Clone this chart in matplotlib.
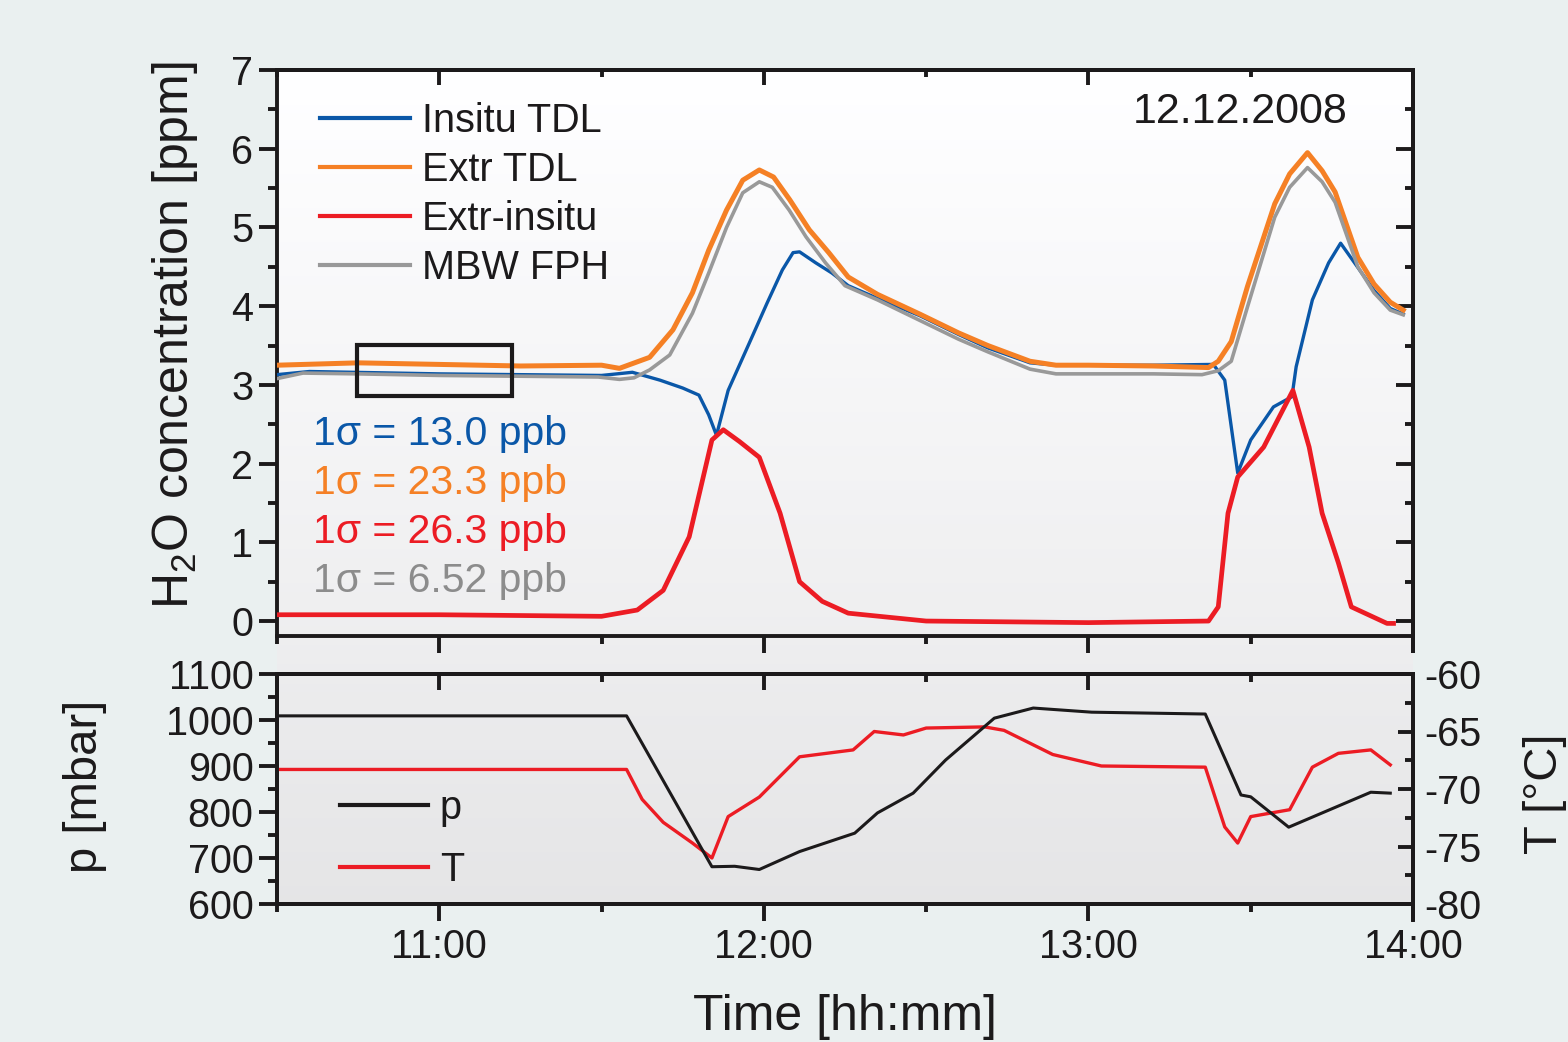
import numpy as np
import matplotlib
matplotlib.use('Agg')
import matplotlib.pyplot as plt
from matplotlib.lines import Line2D
from matplotlib.patches import Rectangle
from matplotlib.ticker import MultipleLocator, FixedLocator

plt.rcParams['font.family'] = ['Liberation Sans', 'DejaVu Sans']
plt.rcParams['mathtext.fontset'] = 'custom'
plt.rcParams['mathtext.rm'] = 'Liberation Sans'
plt.rcParams['axes.unicode_minus'] = False

# --- data (time in decimal hours) ---
t_fph = [10.50, 10.58, 10.75, 11.00, 11.25, 11.49, 11.555, 11.60, 11.648, 11.71,
         11.78, 11.83, 11.885, 11.935, 11.986, 12.026, 12.078, 12.13, 12.19, 12.25,
         12.35, 12.48, 12.60, 12.69, 12.82, 12.90, 13.00, 13.20, 13.35, 13.40,
         13.44, 13.49, 13.574, 13.62, 13.675, 13.72, 13.76, 13.83, 13.88, 13.93, 13.97]
h2o_fph = [3.08, 3.15, 3.14, 3.12, 3.11, 3.10, 3.07, 3.09, 3.19, 3.38,
           3.91, 4.42, 5.00, 5.44, 5.58, 5.51, 5.22, 4.88, 4.55, 4.26,
           4.08, 3.82, 3.58, 3.42, 3.20, 3.14, 3.14, 3.14, 3.13, 3.18,
           3.30, 3.99, 5.13, 5.51, 5.76, 5.58, 5.32, 4.50, 4.17, 3.95, 3.89]

t_extr = [10.50, 10.75, 11.00, 11.25, 11.50, 11.555, 11.648, 11.72, 11.78, 11.83,
          11.885, 11.935, 11.986, 12.03, 12.08, 12.14, 12.20, 12.26, 12.35, 12.48,
          12.60, 12.69, 12.82, 12.90, 13.00, 13.20, 13.37, 13.40, 13.44, 13.49,
          13.574, 13.62, 13.675, 13.72, 13.76, 13.83, 13.88, 13.93, 13.97]
h2o_extr = [3.25, 3.28, 3.26, 3.24, 3.25, 3.21, 3.35, 3.70, 4.17, 4.71,
            5.22, 5.60, 5.73, 5.64, 5.35, 4.97, 4.68, 4.37, 4.15, 3.90,
            3.66, 3.50, 3.30, 3.25, 3.25, 3.24, 3.22, 3.30, 3.55, 4.25,
            5.30, 5.68, 5.95, 5.72, 5.45, 4.62, 4.28, 4.05, 3.95]

t_insitu = [10.50, 10.60, 11.00, 11.25, 11.50, 11.595, 11.68, 11.75, 11.80, 11.83,
            11.854, 11.89, 11.955, 12.01, 12.057, 12.09, 12.11, 12.16, 12.21, 12.26,
            12.35, 12.48, 12.60, 12.69, 12.82, 12.90, 13.00, 13.20, 13.385, 13.42,
            13.46, 13.50, 13.57, 13.627, 13.64, 13.69, 13.74, 13.777, 13.82, 13.88,
            13.93, 13.97]
h2o_insitu = [3.13, 3.17, 3.14, 3.13, 3.12, 3.16, 3.06, 2.96, 2.87, 2.62,
              2.36, 2.93, 3.53, 4.04, 4.46, 4.68, 4.69, 4.55, 4.42, 4.26,
              4.10, 3.88, 3.64, 3.47, 3.28, 3.25, 3.25, 3.25, 3.26, 3.06,
              1.88, 2.30, 2.72, 2.85, 3.23, 4.08, 4.55, 4.80, 4.55, 4.20,
              3.97, 3.90]

t_diff = [10.50, 11.00, 11.50, 11.61, 11.69, 11.77, 11.84, 11.875, 11.925, 11.986,
          12.05, 12.11, 12.18, 12.26, 12.50, 13.00, 13.37, 13.40, 13.43, 13.46,
          13.54, 13.63, 13.68, 13.72, 13.77, 13.81, 13.92, 13.94]
h2o_diff = [0.08, 0.08, 0.06, 0.14, 0.39, 1.07, 2.30, 2.43, 2.28, 2.08,
            1.37, 0.50, 0.25, 0.10, 0.00, -0.02, 0.00, 0.18, 1.37, 1.83,
            2.21, 2.93, 2.21, 1.37, 0.74, 0.18, -0.03, -0.03]

t_p = [10.50, 11.577, 11.84, 11.91, 11.986, 12.11, 12.28, 12.35, 12.46, 12.56,
       12.71, 12.83, 13.01, 13.36, 13.47, 13.50, 13.617, 13.87, 13.93]
pressure = [1009, 1009, 681, 682, 675, 714, 754, 798, 841, 913,
            1004, 1026, 1017, 1013, 837, 833, 767, 843, 841]

t_T = [10.50, 11.577, 11.625, 11.69, 11.78, 11.84, 11.89, 11.986, 12.11, 12.275,
       12.34, 12.43, 12.50, 12.68, 12.74, 12.89, 13.04, 13.36, 13.42, 13.46,
       13.50, 13.62, 13.69, 13.77, 13.87, 13.93]
temperature = [-68.3, -68.3, -70.9, -72.9, -74.7, -76.0, -72.4, -70.7, -67.2, -66.6,
               -65.0, -65.3, -64.7, -64.6, -64.9, -67.0, -68.0, -68.1, -73.3, -74.7,
               -72.4, -71.8, -68.1, -66.9, -66.6, -67.9]

series_names = ['Insitu TDL', 'Extr TDL', 'Extr-insitu', 'MBW FPH']
sigma_labels = ['1σ = 13.0 ppb', '1σ = 23.3 ppb', '1σ = 26.3 ppb', '1σ = 6.52 ppb']
hour_ticks = [11, 12, 13, 14]
hour_labels = ['11:00', '12:00', '13:00', '14:00']
box = [10.746, 2.86, 0.477, 0.65]   # x, y, width, height of the marked window
date_text = '12.12.2008'

c_blue = '#0a57a8'
c_orange = '#f58025'
c_red = '#ec1c24'
c_gray = '#999999'
c_gray_txt = '#8c8c8c'
ink = '#1c1a1b'

W, H = 1568, 1042
fig = plt.figure(figsize=(W / 100, H / 100), dpi=100, facecolor='#eaf0f0')

L = 277 / W
R = 1413 / W
top1, bot1 = 1 - 70 / H, 1 - 636 / H
top2, bot2 = 1 - 674 / H, 1 - 904 / H

# background gradient behind both panels
bg = fig.add_axes([L, bot2, R - L, top1 - bot2])
bg.set_axis_off()
rows = np.linspace(0, 1, 300)
stops_y = [0.0, 0.68, 0.74, 1.0]
stops_v = [1.0, 0.935, 0.925, 0.900]
grey = np.interp(rows, stops_y, stops_v)
img = np.stack([grey, grey, grey + 0.005], axis=-1).clip(0, 1)[:, None, :]
bg.imshow(img, aspect='auto', extent=[0, 1, 0, 1], interpolation='bilinear')

lw_sp = 2.8
ax1 = fig.add_axes([L, bot1, R - L, top1 - bot1])
ax2 = fig.add_axes([L, bot2, R - L, top2 - bot2])
for ax in (ax1, ax2):
    ax.set_facecolor('none')
    for s in ax.spines.values():
        s.set_linewidth(lw_sp)
        s.set_color(ink)
    ax.set_xlim(10.5, 14.0)
    ax.xaxis.set_major_locator(FixedLocator(hour_ticks))
    ax.xaxis.set_minor_locator(MultipleLocator(0.5))

# --- top panel ---
ax1.plot(t_insitu, h2o_insitu, color=c_blue, lw=2.4, zorder=3)
ax1.plot(t_extr, h2o_extr, color=c_orange, lw=3.6, zorder=4)
ax1.plot(t_diff, h2o_diff, color=c_red, lw=3.4, zorder=5)
ax1.plot(t_fph, h2o_fph, color=c_gray, lw=2.6, zorder=6)
ax1.add_patch(Rectangle((box[0], box[1]), box[2], box[3], fill=False,
                        edgecolor=ink, lw=3.0, zorder=7))
ax1.set_ylim(-0.19, 7)
ax1.yaxis.set_major_locator(MultipleLocator(1))
ax1.yaxis.set_minor_locator(MultipleLocator(0.5))
ax1.tick_params(axis='y', which='both', direction='out', width=lw_sp,
                labelsize=28.5, pad=4, colors=ink)
ax1.tick_params(axis='y', which='major', length=13)
ax1.tick_params(axis='y', which='minor', length=6.5)
ax1.tick_params(axis='x', which='both', direction='out', width=lw_sp,
                labelbottom=False, colors=ink)
ax1.tick_params(axis='x', which='major', length=12)
ax1.tick_params(axis='x', which='minor', length=6)

sx1 = ax1.secondary_xaxis('top')
sx1.set_xticks(hour_ticks)
sx1.xaxis.set_minor_locator(MultipleLocator(0.5))
sx1.tick_params(which='both', direction='in', width=lw_sp, labeltop=False, colors=ink)
sx1.tick_params(which='major', length=11)
sx1.tick_params(which='minor', length=5)
sx1.spines['top'].set_linewidth(lw_sp)

sy1 = ax1.secondary_yaxis('right')
sy1.yaxis.set_major_locator(MultipleLocator(1))
sy1.yaxis.set_minor_locator(MultipleLocator(0.5))
sy1.tick_params(which='both', direction='in', width=lw_sp, labelright=False, colors=ink)
sy1.tick_params(which='major', length=12)
sy1.tick_params(which='minor', length=5.5)
sy1.spines['right'].set_linewidth(lw_sp)
ax1.plot([1, 1], [-0.03, 0], transform=ax1.transAxes, color=ink, lw=lw_sp,
         clip_on=False, solid_capstyle='butt')

handles = [Line2D([], [], color=c, lw=3.0) for c in (c_blue, c_orange, c_red, c_gray)]
ax1.legend(handles, series_names, loc='upper left', bbox_to_anchor=(0.038, 0.944),
           frameon=False, fontsize=28.5, handlelength=2.27, handletextpad=0.3,
           labelspacing=0.28, borderpad=0, borderaxespad=0, labelcolor=ink)

for lab, col, yy in zip(sigma_labels, (c_blue, c_orange, c_red, c_gray_txt),
                        (0.357, 0.270, 0.184, 0.097)):
    ax1.text(0.032, yy, lab, transform=ax1.transAxes, color=col, fontsize=29.5,
             ha='left', va='center')
ax1.text(0.848, 0.926, date_text, transform=ax1.transAxes, color=ink, fontsize=31,
         ha='center', va='center')

# --- bottom panel ---
ax2.plot(t_p, pressure, color=ink, lw=2.2, zorder=4)
ax2.set_ylim(600, 1100)
ax2.yaxis.set_major_locator(MultipleLocator(100))
ax2.yaxis.set_minor_locator(MultipleLocator(50))
ax2.tick_params(axis='y', which='both', direction='out', width=lw_sp,
                labelsize=28.5, pad=4, colors=ink)
ax2.tick_params(axis='y', which='major', length=13)
ax2.tick_params(axis='y', which='minor', length=6.5)
ax2.tick_params(axis='x', which='both', direction='out', width=lw_sp,
                labelsize=28.5, pad=5, colors=ink)
ax2.tick_params(axis='x', which='major', length=12)
ax2.tick_params(axis='x', which='minor', length=6)
ax2.set_xticklabels(hour_labels)

sx2 = ax2.secondary_xaxis('top')
sx2.set_xticks(hour_ticks)
sx2.xaxis.set_minor_locator(MultipleLocator(0.5))
sx2.tick_params(which='both', direction='in', width=lw_sp, labeltop=False, colors=ink)
sx2.tick_params(which='major', length=11.5)
sx2.tick_params(which='minor', length=6)
sx2.spines['top'].set_linewidth(lw_sp)

axT = ax2.twinx()
axT.set_facecolor('none')
axT.plot(t_T, temperature, color=c_red, lw=2.4, zorder=3)
axT.set_ylim(-80, -60)
axT.yaxis.set_major_locator(MultipleLocator(5))
axT.yaxis.set_minor_locator(MultipleLocator(2.5))
axT.tick_params(axis='y', which='both', direction='in', width=lw_sp,
                labelsize=28.5, pad=8, colors=ink)
axT.tick_params(axis='y', which='major', length=11)
axT.tick_params(axis='y', which='minor', length=6)
for s in axT.spines.values():
    s.set_linewidth(lw_sp)
    s.set_color(ink)
axT.plot([1, 1], [-0.078, 0], transform=axT.transAxes, color=ink, lw=lw_sp,
         clip_on=False, solid_capstyle='butt')
ax2.set_zorder(axT.get_zorder() + 1)

h2 = [Line2D([], [], color=ink, lw=3.0), Line2D([], [], color=c_red, lw=3.0)]
ax2.legend(h2, ['p', 'T'], loc='upper left', bbox_to_anchor=(0.0555, 0.50),
           frameon=False, fontsize=28.5, handlelength=2.22, handletextpad=0.3,
           labelspacing=0.6, borderpad=0, borderaxespad=0, labelcolor=ink)

# axis titles
fig.text(175 / W, 1 - 335 / H, 'H$_2$O concentration [ppm]', rotation=90,
         fontsize=36, ha='center', va='center', color=ink)
fig.text(85 / W, 1 - 786 / H, 'p [mbar]', rotation=90,
         fontsize=34, ha='center', va='center', color=ink)
fig.text(1545 / W, 1 - 794 / H, 'T [°C]', rotation=90,
         fontsize=34, ha='center', va='center', color=ink)
fig.text(845 / W, 1 - 994 / H, 'Time [hh:mm]', fontsize=36,
         ha='center', va='top', color=ink)

fig.savefig('out.png', dpi=100, facecolor=fig.get_facecolor())
